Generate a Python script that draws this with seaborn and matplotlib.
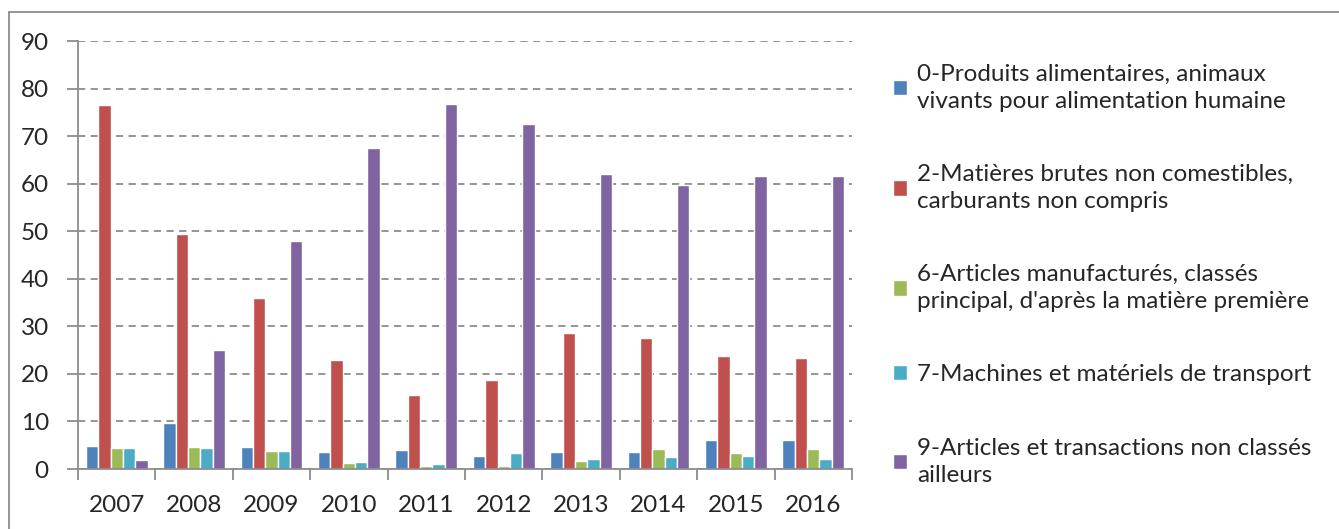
import numpy as np
import pandas as pd
import seaborn as sns
import matplotlib.pyplot as plt
from matplotlib.ticker import FixedLocator
from matplotlib.lines import Line2D

years = ["2007", "2008", "2009", "2010", "2011", "2012", "2013", "2014", "2015", "2016"]

series_names = [
    "0-Produits alimentaires, animaux\nvivants pour alimentation humaine",
    "2-Matières brutes non comestibles,\ncarburants non compris",
    "6-Articles manufacturés, classés\nprincipal, d'après la matière première",
    "7-Machines et matériels de transport",
    "9-Articles et transactions non classés\nailleurs",
]

produits_alim = [4.8, 9.7, 4.6, 3.6, 3.9, 2.7, 3.6, 3.6, 6.0, 6.0]
matieres_brutes = [76.5, 49.5, 36.0, 23.0, 15.6, 18.8, 28.5, 27.5, 23.8, 23.3]
articles_manuf = [4.4, 4.7, 3.7, 1.2, 0.6, 0.6, 1.7, 4.2, 3.4, 4.2]
machines = [4.4, 4.4, 3.8, 1.5, 1.0, 3.4, 2.0, 2.5, 2.7, 2.0]
autres = [1.8, 25.0, 48.0, 67.5, 76.7, 72.5, 62.0, 59.8, 61.7, 61.7]

colors = ["#4F81BD", "#C0504D", "#9BBB59", "#4BACC6", "#8064A2"]

df = pd.DataFrame({"annee": years})
for name, vals in zip(series_names, [produits_alim, matieres_brutes, articles_manuf, machines, autres]):
    df[name] = vals
long_df = df.melt(id_vars="annee", var_name="serie", value_name="valeur")

sns.set_style("white")
plt.rcParams["font.family"] = ["Lato", "DejaVu Sans"]

fig = plt.figure(figsize=(13.39, 5.29), dpi=100)
ax = fig.add_axes([78 / 1339, 1 - 469 / 529, (852 - 78) / 1339, (469 - 41) / 529])

sns.barplot(data=long_df, x="annee", y="valeur", hue="serie", palette=colors,
            width=0.8, ax=ax, saturation=1, legend=True)

ax.set_xlim(-0.5, 9.5)
ax.set_ylim(0, 90)
ax.set_yticks(range(0, 91, 10))
ax.yaxis.grid(True, linestyle=(0, (4, 3)), color="#8c8c8c", linewidth=1.3)
ax.set_axisbelow(True)
ax.set_xlabel("")
ax.set_ylabel("")

for s in ["top", "right"]:
    ax.spines[s].set_visible(False)
for s in ["left", "bottom"]:
    ax.spines[s].set_color("#8c8c8c")
    ax.spines[s].set_linewidth(1.3)

ax.tick_params(axis="y", which="major", length=8, width=1.3, color="#8c8c8c",
               labelsize=17.5, pad=13, left=True)
ax.tick_params(axis="x", which="major", length=0, labelsize=17.5, pad=19)
ax.xaxis.set_minor_locator(FixedLocator(np.arange(-0.5, 10, 1.0)))
ax.tick_params(axis="x", which="minor", length=8, width=1.3, color="#8c8c8c", bottom=True)

handles, labels = ax.get_legend_handles_labels()
ax.legend_.remove()
leg = fig.legend(handles, labels, loc="upper left", bbox_to_anchor=(883 / 1339, 1 - 54 / 529),
                 frameon=False, fontsize=17.5, handlelength=0.6, handleheight=0.6,
                 handletextpad=0.4, labelspacing=2.15, borderaxespad=0)
for t in leg.get_texts():
    t.set_linespacing(1.35)

# chart frame
fig.add_artist(Line2D([9 / 1339, 9 / 1339], [0, 1 - 12 / 529], color="#8c8c8c", lw=1.3))
fig.add_artist(Line2D([9 / 1339, 1], [1 - 12 / 529, 1 - 12 / 529], color="#8c8c8c", lw=1.3))

fig.savefig("out.png", dpi=100)
